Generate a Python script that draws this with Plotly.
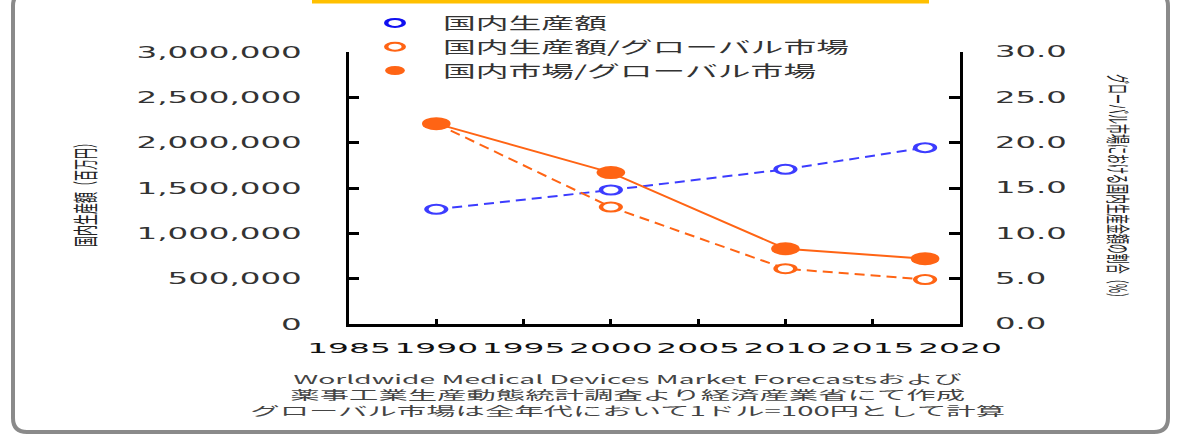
import json
import plotly.graph_objects as go

# --- data -------------------------------------------------------------
years = [1990, 2000, 2010, 2018]
production = [1265000, 1478000, 1706000, 1945000]      # 国内生産額 (百万円)
production_share = [22.1, 12.9, 6.1, 4.9]              # 国内生産額/グローバル市場 (%)
market_share = [22.1, 16.7, 8.3, 7.2]                  # 国内市場/グローバル市場 (%)

series_names = ["国内生産額", "国内生産額/グローバル市場", "国内市場/グローバル市場"]
left_title = "国内生産額（百万円）"
right_title = "グローバル市場における国内生産金額の割合（%）"
note_lines = [
    "Worldwide Medical Devices Market Forecastsおよび",
    "薬事工業生産動態統計調査より経済産業省にて作成",
    "グローバル市場は全年代において1ドル=100円として計算",
]

# --- geometry helpers (pixel -> paper) --------------------------------
W, H = 1191, 446
L, R, T, B = 349, 960, 52, 324


def px(x):
    return (x - L) / (R - L)


def py(y):
    return (B - y) / (B - T)


def rounded_rect(x0, y0, x1, y1, r):
    pts = [
        ("M", [(x0 + r, y0)]), ("L", [(x1 - r, y0)]), ("Q", [(x1, y0), (x1, y0 + r)]),
        ("L", [(x1, y1 - r)]), ("Q", [(x1, y1), (x1 - r, y1)]),
        ("L", [(x0 + r, y1)]), ("Q", [(x0, y1), (x0, y1 - r)]),
        ("L", [(x0, y0 + r)]), ("Q", [(x0, y0), (x0 + r, y0)]),
    ]
    out = []
    for cmd, coords in pts:
        out.append(cmd + " " + " ".join(f"{px(a):.5f},{py(b):.5f}" for a, b in coords))
    return " ".join(out) + " Z"


BLUE = "#3c3cff"
ORANGE = "#ff6414"
SANS = "DejaVu Sans"
JP = "Noto Sans CJK JP"

fig = go.Figure()

# 国内生産額 (left axis)
fig.add_trace(go.Scatter(
    x=years, y=production, mode="lines+markers", showlegend=False,
    line=dict(color=BLUE, width=2, dash="10px,6px"),
    marker=dict(size=9, color="white", line=dict(color=BLUE, width=2)),
))
# 国内生産額/グローバル市場 (right axis)
fig.add_trace(go.Scatter(
    x=years, y=production_share, yaxis="y2", mode="lines+markers", showlegend=False,
    line=dict(color=ORANGE, width=2, dash="10px,6px"),
    marker=dict(size=9, color="white", line=dict(color=ORANGE, width=2)),
))
# 国内市場/グローバル市場 (right axis)
fig.add_trace(go.Scatter(
    x=years, y=market_share, yaxis="y2", mode="lines+markers", showlegend=False,
    line=dict(color=ORANGE, width=2),
    marker=dict(size=13, color=ORANGE),
))

# legend entries (markers only)
legend_markers = [
    dict(size=8, color="white", line=dict(color="#1010f0", width=2)),
    dict(size=8, color="white", line=dict(color=ORANGE, width=2)),
    dict(size=9, color=ORANGE, line=dict(width=0)),
]
for name, mk in zip(series_names, legend_markers):
    fig.add_trace(go.Scatter(x=[None], y=[None], mode="markers", name=name, marker=mk))

fig.update_layout(
    width=W, height=H,
    margin=dict(l=L, r=W - R, t=T, b=H - B, pad=0, autoexpand=False),
    paper_bgcolor="white", plot_bgcolor="white",
    showlegend=True,
    legend=dict(
        x=px(347), y=py(6), xanchor="left", yanchor="top",
        font=dict(family=JP, size=16, color="#333333"),
        itemwidth=86, bgcolor="rgba(0,0,0,0)", tracegroupgap=0,
    ),
    xaxis=dict(
        range=[1985, 2020], tick0=1985, dtick=5, ticks="inside", ticklen=5,
        tickwidth=3, tickcolor="black", showline=True, linewidth=3, linecolor="black",
        showgrid=False, zeroline=False, ticklabelstandoff=9,
        tickfont=dict(family=SANS, size=14, color="#111111"),
    ),
    yaxis=dict(
        range=[0, 3000000], dtick=500000, tickformat=",.0f", ticks="inside",
        ticklen=10, tickwidth=2.5, tickcolor="black", showline=True, linewidth=3,
        linecolor="black", showgrid=False, zeroline=False, ticklabelstandoff=41,
        tickfont=dict(family=SANS, size=16, color="#333333"),
    ),
    yaxis2=dict(
        overlaying="y", side="right", range=[0, 30], dtick=5, tickformat=".1f",
        ticks="inside", ticklen=11, tickwidth=2.5, tickcolor="black", showline=True,
        linewidth=3, linecolor="black", showgrid=False, zeroline=False,
        ticklabelstandoff=29, tickfont=dict(family=SANS, size=15, color="#333333"),
    ),
    shapes=[
        dict(type="path", xref="paper", yref="paper", path=rounded_rect(13, -8, 1168, 432, 14),
             line=dict(color="#8a8a8a", width=4), fillcolor="rgba(0,0,0,0)"),
        dict(type="rect", xref="paper", yref="paper", x0=px(312), x1=px(929),
             y0=py(3.5), y1=py(-2), line=dict(width=0), fillcolor="#ffc000"),
    ],
)

note_text = ('<span style="font-size:12px">' + note_lines[0] + "</span><br>"
             + "<br>".join(note_lines[1:]))
annotations = [
    dict(text=left_title, x=px(84), y=py(192), textangle=-90,
         font=dict(family=JP, size=11, color="#222222")),
    dict(text=right_title, x=px(1120), y=py(188), textangle=90,
         font=dict(family=JP, size=10, color="#222222")),
    dict(text=note_text, x=px(627), y=py(395),
         font=dict(family=JP, size=12.5, color="#444444")),
]
for a in annotations:
    a.update(xref="paper", yref="paper", showarrow=False, xanchor="center", yanchor="middle")
fig.update_layout(annotations=annotations)

# horizontal widening applied to glyphs and markers after the plot is drawn
widths = {
    "xtick": 2.35, "ytick": 2.03, "y2tick": 2.15, "legend": 2.05, "marker": 2.2,
    "ann": [2.3, 2.4, 2.35],
}
js = """
var gd = document.getElementById('{plot_id}');
var cfg = CFG;
function widen(el, s) {
  var bb = el.getBBox();
  if (!bb.width) return;
  var m = el.getCTM();
  var t = el.getAttribute('transform') || '';
  if (Math.abs(m.a) > 0.5) {
    var a = el.getAttribute('text-anchor') || 'start';
    var cx = a === 'middle' ? bb.x + bb.width / 2 : (a === 'end' ? bb.x + bb.width : bb.x);
    el.setAttribute('transform', t + ' translate(' + cx + ',0) scale(' + s + ',1) translate(' + (-cx) + ',0)');
  } else {
    var cy = bb.y + bb.height / 2;
    el.setAttribute('transform', t + ' translate(0,' + cy + ') scale(1,' + s + ') translate(0,' + (-cy) + ')');
  }
}
gd.querySelectorAll('g.legend [clip-path]').forEach(function (e) { e.removeAttribute('clip-path'); });
gd.querySelectorAll('g.xtick text').forEach(function (e) { widen(e, cfg.xtick); });
gd.querySelectorAll('g.ytick text').forEach(function (e) { widen(e, cfg.ytick); });
gd.querySelectorAll('g.y2tick text').forEach(function (e) { widen(e, cfg.y2tick); });
gd.querySelectorAll('text.legendtext').forEach(function (e) { widen(e, cfg.legend); });
gd.querySelectorAll('g.annotation').forEach(function (g) {
  var i = +g.getAttribute('data-index');
  var t = g.querySelector('text');
  if (t) widen(t, cfg.ann[i]);
});
gd.querySelectorAll('path.point, path.scatterpts').forEach(function (e) {
  var t = e.getAttribute('transform') || '';
  e.setAttribute('transform', t + ' scale(' + cfg.marker + ',1)');
});
""".replace("CFG", json.dumps(widths))

fig.write_html("out.html", post_script=js, config={"displayModeBar": False})
